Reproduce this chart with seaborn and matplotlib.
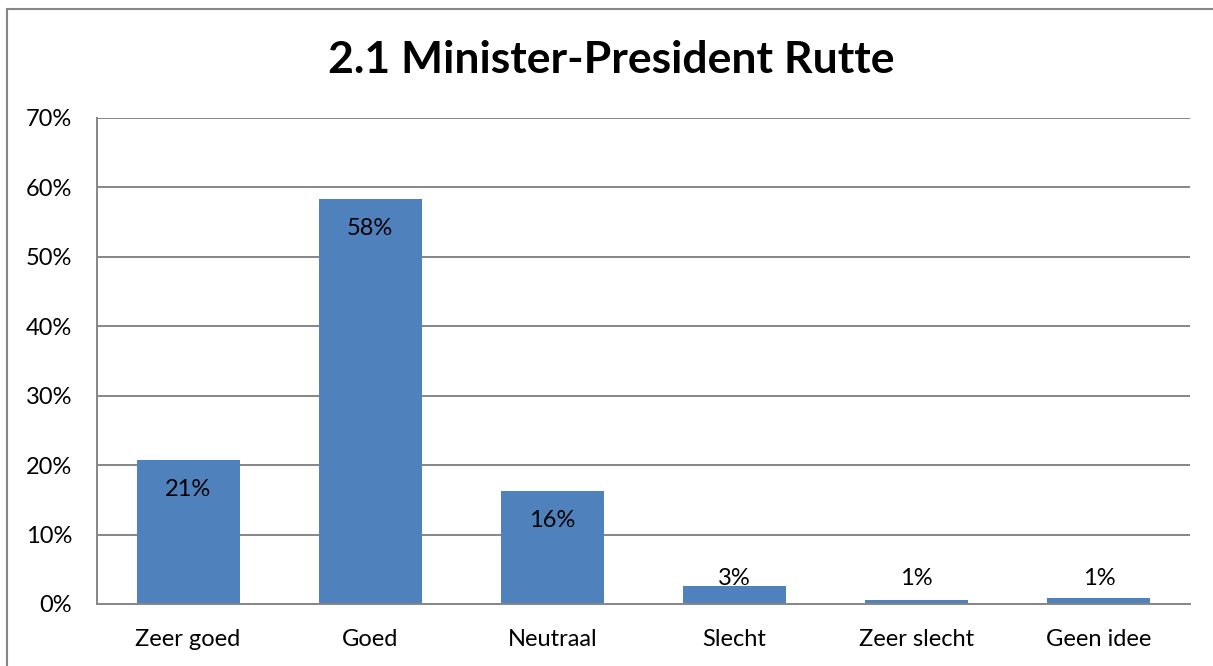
"""
Bar chart: opinion on Minister-President Rutte (survey question 2.1).
"""
import matplotlib
matplotlib.use("Agg")  # Non-interactive backend
import matplotlib.pyplot as plt
from matplotlib.lines import Line2D
from matplotlib.ticker import PercentFormatter
import pandas as pd
import seaborn as sns

# ── Data ──────────────────────────────────────────────────────────────────
categories = ["Zeer goed", "Goed", "Neutraal", "Slecht", "Zeer slecht", "Geen idee"]
shares = [0.208, 0.584, 0.163, 0.026, 0.006, 0.009]
y_ticks = [0.0, 0.1, 0.2, 0.3, 0.4, 0.5, 0.6, 0.7]
title = "2.1 Minister-President Rutte"

BAR_COLOR = "#4F81BD"
GRID_COLOR = "#868686"

sns.set_style("white")
plt.rcParams["font.family"] = ["Lato", "DejaVu Sans"]

W, H = 1213, 666
fig = plt.figure(figsize=(W / 100, H / 100), dpi=100)
ax = fig.add_axes([97 / W, 1 - 604 / H, (1190 - 97) / W, (604 - 118) / H])

df = pd.DataFrame({"cat": categories, "share": shares})
sns.barplot(data=df, x="cat", y="share", color=BAR_COLOR, saturation=1,
            width=0.566, linewidth=0, ax=ax)

ax.set_xlim(-0.5, len(categories) - 0.5)
ax.set_ylim(0, 0.7)
ax.set_yticks(y_ticks)
ax.yaxis.set_major_formatter(PercentFormatter(1.0, decimals=0))
ax.grid(axis="y", color=GRID_COLOR, linewidth=1.4)
ax.set_axisbelow(True)
ax.set_xlabel("")
ax.set_ylabel("")
ax.tick_params(axis="both", length=0, labelsize=17, colors="black")
ax.tick_params(axis="y", pad=18)
ax.tick_params(axis="x", pad=18)

for side in ("top", "right"):
    ax.spines[side].set_visible(False)
for side in ("left", "bottom"):
    ax.spines[side].set_color(GRID_COLOR)
    ax.spines[side].set_linewidth(1.4)

# Value labels: inside end, pushed up when the bar is too short
for i, v in enumerate(shares):
    y = max(v - 0.043, 0.0365)
    ax.text(i, y, f"{v:.0%}", ha="center", va="center", fontsize=17, color="black")

fig.text(0.504, 1 - 60 / H, title, ha="center", va="center",
         fontsize=32, fontweight="bold", color="black")

# Chart-area border (top and left edges visible in the crop)
fig.add_artist(Line2D([7 / W, 7 / W], [0, 1 - 9 / H], transform=fig.transFigure,
                      color=GRID_COLOR, linewidth=1.5))
fig.add_artist(Line2D([7 / W, 1], [1 - 9 / H, 1 - 9 / H], transform=fig.transFigure,
                      color=GRID_COLOR, linewidth=1.5))

fig.savefig("out.png", dpi=100)
plt.close(fig)
